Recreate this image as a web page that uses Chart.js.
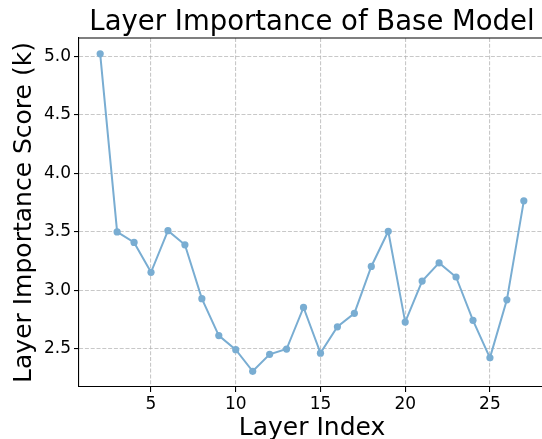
<!DOCTYPE html>
<html>
<head>
<meta charset="utf-8">
<script src="https://cdn.jsdelivr.net/npm/chart.js@4/dist/chart.umd.min.js"></script>
<style>
  /* the original figure is cropped on the right, so the canvas runs a bit past the window */
  html, body { margin: 0; padding: 0; background: #fff; overflow: hidden; }
</style>
</head>
<body>
<canvas id="myChart" width="549" height="439"></canvas>
<script>
  // Layer indices and their importance scores
  var layers = [2, 3, 4, 5, 6, 7, 8, 9, 10, 11, 12, 13, 14, 15, 16, 17, 18, 19, 20, 21, 22, 23, 24, 25, 26, 27];
  var scores = [5.02, 3.50, 3.41, 3.155, 3.51, 3.39, 2.93, 2.615, 2.495, 2.31, 2.455, 2.50, 2.855, 2.465, 2.69, 2.805,
                3.205, 3.505, 2.73, 3.08, 3.235, 3.115, 2.745, 2.425, 2.92, 3.765];

  // Tick labels
  var xTicks = [5, 10, 15, 20, 25];
  var yTicks = [2.5, 3.0, 3.5, 4.0, 4.5, 5.0];

  var lineColor = 'rgb(121, 173, 210)';
  var gridColor = 'rgba(176, 176, 176, 0.7)';
  var font = 'DejaVu Sans';

  // Top and right spines (matplotlib box)
  var framePlugin = {
    id: 'frame',
    afterDraw: function (chart) {
      var a = chart.chartArea;
      var c = chart.ctx;
      c.save();
      c.strokeStyle = '#000';
      c.lineWidth = 1.1;
      c.beginPath();
      c.moveTo(a.left, a.top);
      c.lineTo(a.right, a.top);
      c.lineTo(a.right, a.bottom);
      c.stroke();
      c.restore();
    }
  };

  var ctx = document.getElementById('myChart').getContext('2d');

  var data = {
    datasets: [{
      data: layers.map(function (l, i) { return { x: l, y: scores[i] }; }),
      borderColor: lineColor,
      backgroundColor: lineColor,
      borderWidth: 2,
      pointRadius: 3.6,
      pointBorderWidth: 0,
      pointBackgroundColor: lineColor,
      tension: 0
    }]
  };

  var options = {
    responsive: false,
    animation: false,
    layout: { padding: 0 },
    plugins: {
      legend: { display: false },
      tooltip: { enabled: false },
      title: {
        display: true,
        fullSize: false,
        text: 'Layer Importance of Base Model',
        color: '#000',
        font: { family: font, size: 27.5, weight: 'normal', lineHeight: 1 },
        padding: { top: 8.7, bottom: 1.8 }
      }
    },
    scales: {
      x: {
        type: 'linear',
        min: 0.75,
        max: 28.25,
        afterBuildTicks: function (scale) {
          scale.ticks = xTicks.map(function (v) { return { value: v }; });
        },
        afterFit: function (scale) { scale.height = 52; },
        ticks: {
          color: '#000',
          padding: 2,
          maxRotation: 0,
          font: { family: font, size: 17 },
          callback: function (v) { return String(v); }
        },
        grid: {
          color: gridColor,
          lineWidth: 1.1,
          tickColor: '#000',
          tickLength: 5,
          tickWidth: 1.1
        },
        border: { display: true, color: '#000', width: 1.1, dash: [4, 1.8] },
        title: {
          display: true,
          text: 'Layer Index',
          color: '#000',
          font: { family: font, size: 25, lineHeight: 1 },
          padding: { top: 0, bottom: -2 }
        }
      },
      y: {
        type: 'linear',
        min: 2.176,
        max: 5.155,
        afterBuildTicks: function (scale) {
          scale.ticks = yTicks.map(function (v) { return { value: v }; });
        },
        afterFit: function (scale) { scale.width = 79; },
        ticks: {
          color: '#000',
          padding: 3,
          font: { family: font, size: 17 },
          callback: function (v) { return Number(v).toFixed(1); }
        },
        grid: {
          color: gridColor,
          lineWidth: 1.1,
          tickColor: '#000',
          tickLength: 5,
          tickWidth: 1.1
        },
        border: { display: true, color: '#000', width: 1.1, dash: [4, 1.8] },
        title: {
          display: true,
          text: 'Layer Importance Score (k)',
          color: '#000',
          font: { family: font, size: 25, lineHeight: 1 },
          padding: { top: 12, bottom: 0 }
        }
      }
    }
  };

  var chart = new Chart(ctx, {
    type: 'line',
    data: data,
    options: options,
    plugins: [framePlugin]
  });
</script>
</body>
</html>
